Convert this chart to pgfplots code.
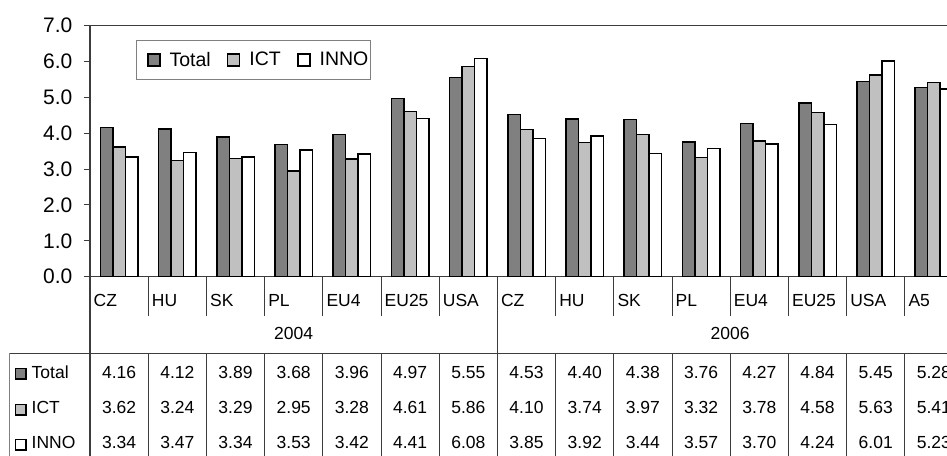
\documentclass[border=0pt]{standalone}
\usepackage{fontspec}
\setmainfont{Liberation Sans}
\usepackage{pgfplots}
\usepackage{pgfplotstable}
\pgfplotsset{compat=1.18}

\definecolor{totalgray}{RGB}{128,128,128}
\definecolor{ictgray}{RGB}{192,192,192}
\definecolor{framegray}{RGB}{60,60,60}

\newcommand\tickfont{\fontsize{21bp}{24bp}\selectfont}
\newcommand\legfont{\fontsize{19.5bp}{23bp}\selectfont}
\newcommand\tabfont{\fontsize{17.5bp}{20bp}\selectfont}

% Index of composite scores by country group, 2004 and 2006
\pgfplotstableread{
x cat  Total ICT  INNO
0 CZ   4.16  3.62 3.34
1 HU   4.12  3.24 3.47
2 SK   3.89  3.29 3.34
3 PL   3.68  2.95 3.53
4 EU4  3.96  3.28 3.42
5 EU25 4.97  4.61 4.41
6 USA  5.55  5.86 6.08
7 CZ   4.53  4.10 3.85
8 HU   4.40  3.74 3.92
9 SK   4.38  3.97 3.44
10 PL  3.76  3.32 3.57
11 EU4 4.27  3.78 3.70
12 EU25 4.84 4.58 4.24
13 USA 5.45  5.63 6.01
14 A5  5.28  5.41 5.23
}\datatable

\pgfplotsset{
  sqkey/.style={legend image code/.code={
      \path[draw=none, fill=none] (0bp,0bp) -- (9.6bp,0bp);
      \draw[##1, line width=1.5bp] (9.6bp,-6bp) rectangle (21.6bp,6bp);}},
  tablerow/.style={forget plot, only marks, mark=none,
      point meta=explicit symbolic,
      nodes near coords={\pgfplotspointmeta},
      every node near coord/.append style={anchor=center, font=\tabfont, inner sep=0pt, text=black}},
}

\begin{document}
\begin{tikzpicture}
\useasboundingbox (0bp,0bp) rectangle (947bp,456bp);
\begin{axis}[
  at={(90bp,179.3bp)}, anchor=south west,
  scale only axis, width=873bp, height=251bp,
  xmin=-0.5, xmax=14.5, ymin=0, ymax=7,
  clip=false,
  axis line style={line width=1.2bp, draw=framegray},
  tick align=outside, major tick length=6.5bp,
  ytick={0,1,...,7}, ytick pos=left,
  ytick style={line width=1bp, draw=framegray},
  yticklabel style={font=\tickfont, anchor=east, inner sep=0pt, xshift=-11bp,
    /pgf/number format/fixed, /pgf/number format/fixed zerofill,
    /pgf/number format/precision=1},
  /pgf/number format/assume math mode=true,
  xtick={0,...,14},
  xticklabels from table={\datatable}{cat},
  xtick style={draw=none},
  xticklabel style={font=\tabfont, anchor=west, inner sep=0pt, xshift=-25.6bp, yshift=-17.6bp},
  legend columns=3,
  legend style={at={(0.05235,0.943)}, anchor=north west,
    draw=gray, line width=1bp, fill=white,
    inner xsep=2bp, inner ysep=11.6bp,
    nodes={inner sep=0pt, font=\legfont},
    column sep=0pt,
    /tikz/every odd column/.append style={column sep=9bp},
    /tikz/every even column/.append style={column sep=7.4bp}},
]
\addplot[ybar, bar width=12.5bp, bar shift=-12.5bp, fill=totalgray, draw=black, line width=1.5bp, sqkey]
  table[x=x, y=Total]{\datatable};
\addlegendentry{Total}
\addplot[ybar, bar width=12.5bp, bar shift=0bp, fill=ictgray, draw=black, line width=1.5bp, sqkey]
  table[x=x, y=ICT]{\datatable};
\addlegendentry{ICT}
\addplot[ybar, bar width=12.5bp, bar shift=12.5bp, fill=white, draw=black, line width=1.5bp, sqkey]
  table[x=x, y=INNO]{\datatable};
\addlegendentry{INNO}

% data table rows below the chart
\addplot[tablerow] table[x=x, y expr=-2.663, meta=Total]{\datatable};
\addplot[tablerow] table[x=x, y expr=-3.656, meta=ICT]{\datatable};
\addplot[tablerow] table[x=x, y expr=-4.632, meta=INNO]{\datatable};
\end{axis}

% y axis continued through the data table
\draw[line width=1.2bp, framegray] (90bp,179.3bp) -- (90bp,0bp);
% category separators in the label row
\foreach \k in {1,...,14}
  \draw[line width=1bp, framegray] ({(90+58.2*\k)*1bp},179.3bp) -- ++(0bp,-39bp);
% separator between the two years
\draw[line width=1bp, framegray] (497.4bp,179.3bp) -- (497.4bp,0bp);
% year labels
\node[font=\tabfont, inner sep=0pt] at (293.7bp,122.8bp) {2004};
\node[font=\tabfont, inner sep=0pt] at (730.2bp,122.8bp) {2006};
% data table frame
\draw[line width=1bp, framegray] (9.3bp,102.7bp) -- (960bp,102.7bp);
\draw[line width=1bp, gray] (9.3bp,102.7bp) -- (9.3bp,0bp);
\foreach \k in {1,...,14}
  \draw[line width=1bp, framegray] ({(90+58.2*\k)*1bp},102.7bp) -- ++(0bp,-102.7bp);
% row headers
\draw[line width=1.5bp, fill=totalgray] (15.5bp,76.8bp) rectangle (26bp,87.3bp);
\node[font=\tabfont, anchor=west, inner sep=0pt] at (31.5bp,83.8bp) {Total};
\draw[line width=1.5bp, fill=ictgray] (15.5bp,41.2bp) rectangle (26bp,51.7bp);
\node[font=\tabfont, anchor=west, inner sep=0pt] at (31.5bp,48.2bp) {ICT};
\draw[line width=1.5bp, fill=white] (15.5bp,6.2bp) rectangle (26bp,16.7bp);
\node[font=\tabfont, anchor=west, inner sep=0pt] at (31.5bp,13.2bp) {INNO};
\end{tikzpicture}
\end{document}
